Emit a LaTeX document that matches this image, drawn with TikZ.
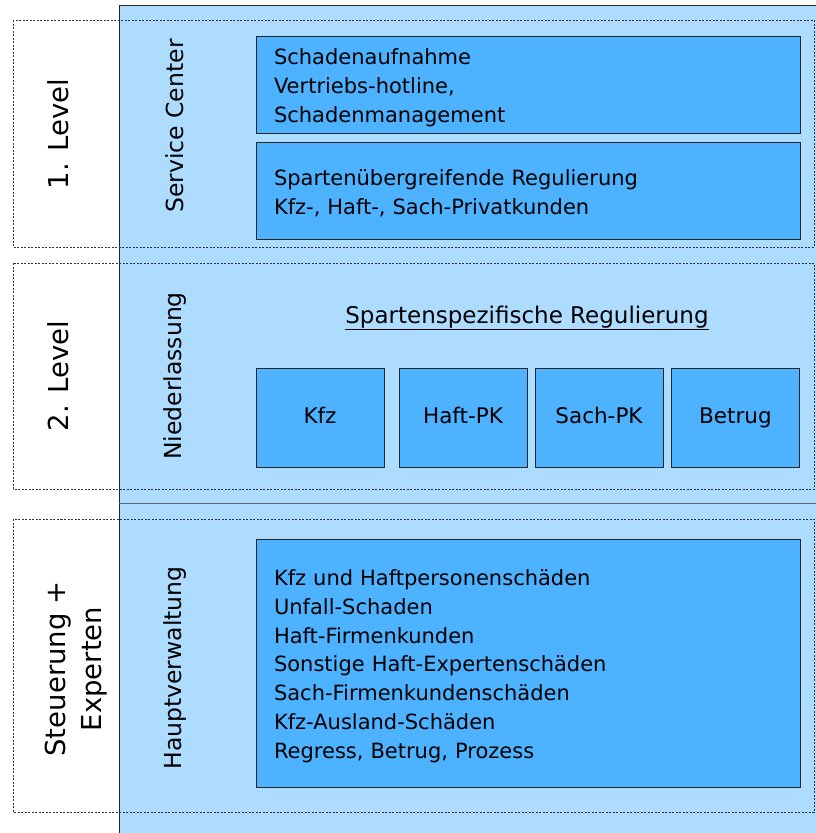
\documentclass[tikz,border=0pt]{standalone}
\usepackage{fontspec}
\setmainfont{DejaVu Sans}
\definecolor{panelblue}{RGB}{173,220,255}
\definecolor{boxblue}{RGB}{77,178,255}

\begin{document}
\begin{tikzpicture}[x=1pt, y=-1pt,
  levelbox/.style={draw=black!80, thin, dash pattern=on 2pt off 1.5pt},
  unitbox/.style={draw=black!85, fill=boxblue, thin, rectangle, inner xsep=18pt,
    text width=508pt, align=left, execute at begin node={\rule{0pt}{22pt}},
    font=\fontsize{21}{28.8}\selectfont},
  spartebox/.style={draw=black!85, fill=boxblue, thin, rectangle,
    minimum width=128pt, minimum height=99pt, text height=1.25em, text depth=0pt,
    font=\fontsize{21.5}{24}\selectfont},
  levellabel/.style={rotate=90, font=\fontsize{27.5}{36}\selectfont, align=center},
  orglabel/.style={rotate=90, font=\fontsize{23.5}{28}\selectfont}]
\useasboundingbox (0,0) rectangle (815,833);

% ===== Hintergrund =====
\fill[panelblue] (119,5) rectangle (816,834);
\draw[black!85] (119,834) -- (119,5) -- (816,5);
\draw[black!60] (119,503) -- (816,503);

% ===== Ebenen (gestrichelt) =====
\draw[levelbox] (13,20) rectangle (814,247);
\draw[levelbox] (13,263) rectangle (814,489);
\draw[levelbox] (13,519) rectangle (814,812);

% ===== Ebenen-Beschriftung =====
\node[levellabel] (lvl1) at (58,134) {1. Level};
\node[levellabel] (lvl2) at (58,376) {2. Level};
\node[levellabel] (lvl3) at (76,669) {Steuerung +\\Experten};

\node[orglabel] (service) at (175,126) {Service Center};
\node[orglabel] (nl) at (175,376) {Niederlassung};
\node[orglabel] (hv) at (175,668) {Hauptverwaltung};

% ===== 1. Level =====
\node[unitbox, minimum height=97pt] (aufnahme) at (528,84.5)
  {Schadenaufnahme\\Vertriebs-hotline,\\Schadenmanagement};
\node[unitbox, minimum height=97pt] (uebergreifend) at (528,190.5)
  {Spartenübergreifende Regulierung\\Kfz-, Haft-, Sach-Privatkunden};

% ===== 2. Level =====
\node[font=\fontsize{23}{26}\selectfont] (spezifisch) at (527,318)
  {\underline{Spartenspezifische Regulierung}};
\node[spartebox] (kfz) at (320,417.5) {Kfz};
\node[spartebox] (haft) at (463,417.5) {Haft-PK};
\node[spartebox] (sach) at (599,417.5) {Sach-PK};
\node[spartebox] (betrug) at (735.5,417.5) {Betrug};

% ===== Steuerung + Experten =====
\node[unitbox, minimum height=248pt] (experten) at (528,663)
  {Kfz und Haftpersonenschäden\\Unfall-Schaden\\Haft-Firmenkunden\\
   Sonstige Haft-Expertenschäden\\Sach-Firmenkundenschäden\\
   Kfz-Ausland-Schäden\\Regress, Betrug, Prozess};
\end{tikzpicture}
\end{document}
